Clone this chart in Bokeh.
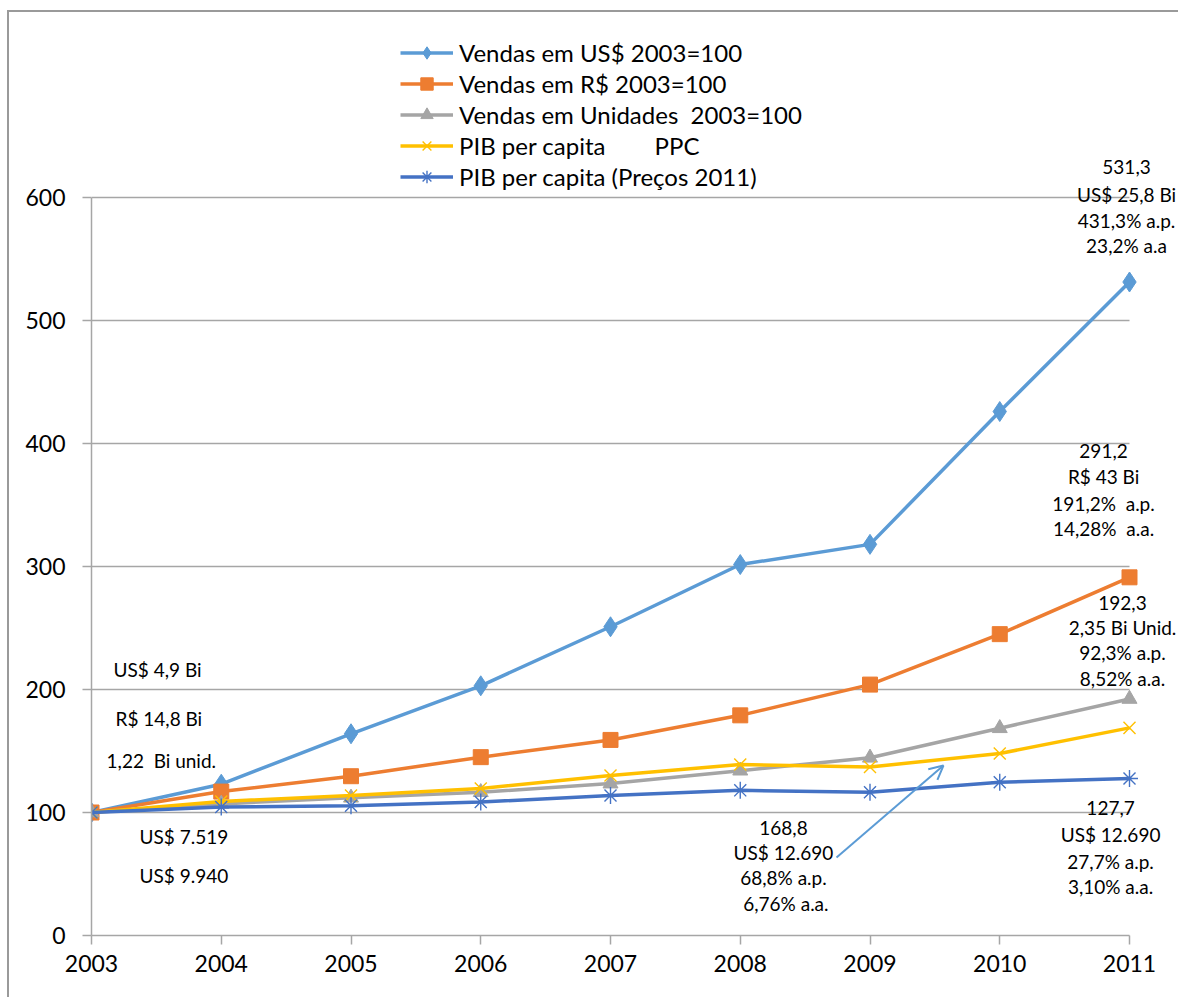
from bokeh.plotting import figure
from bokeh.layouts import column
from bokeh.models import (FixedTicker, Legend, LegendItem, Arrow, OpenHead,
                          Range1d)
from bokeh.core.properties import value
from bokeh.embed import file_html
from bokeh.resources import INLINE

# ---- data (index 2003 = 100) ----
years = [2003, 2004, 2005, 2006, 2007, 2008, 2009, 2010, 2011]
vendas_usd = [100, 123, 164, 203, 251, 301.6, 318, 426, 531.3]
vendas_brl = [100, 117, 129.5, 145, 159, 179, 204, 245, 291.2]
vendas_unid = [100, 107, 112, 116.5, 123.5, 134, 144.5, 168.5, 192.3]
pib_ppc = [100, 109, 113.8, 119.5, 130, 139, 137, 148, 168.8]
pib_2011 = [100, 104.5, 105.5, 108.5, 113.8, 118, 116.5, 124.6, 127.7]
y_ticks = [0, 100, 200, 300, 400, 500, 600]

NB = "\u00a0"
series_labels = [
    "Vendas em US$ 2003=100",
    "Vendas em R$ 2003=100",
    "Vendas em Unidades " + NB + "2003=100",
    "PIB per capita " + NB * 7 + "PPC",
    "PIB per capita (Preços 2011)",
]


def br(v):
    return f"{v:.1f}".replace(".", ",")


# ---- layout constants (pixels) ----
W, H = 1178, 997
EDGE_X, EDGE_Y, EDGE_W = 7, 10, 2        # outer chart-area border
AXIS_X, AXIS_Y = 91, 935                 # page position of (2003, 0)
PX_PER_YEAR = 129.75
PX_PER_UNIT = 1.23
org_x, org_y = EDGE_X + EDGE_W, EDGE_Y + EDGE_W
fig_w = W - org_x
fig_h = H - org_y
left = AXIS_X - org_x
bottom = fig_h - (AXIS_Y - org_y)
frame_w = fig_w - left
frame_h = fig_h - bottom
x_end = years[0] + frame_w / PX_PER_YEAR
y_end = frame_h / PX_PER_UNIT

FONT = "Lato"
GRID = "#A6A6A6"

p = figure(width=fig_w, height=fig_h, output_backend="svg", toolbar_location=None,
           x_range=Range1d(years[0], x_end), y_range=Range1d(0, y_end),
           min_border_left=left, min_border_right=0,
           min_border_top=0, min_border_bottom=bottom)
p.outline_line_color = None
p.background_fill_color = "white"
p.border_fill_color = "white"
p.xgrid.visible = False
p.ygrid.visible = False

# horizontal gridlines limited to the year span
p.segment(x0=years[0], x1=years[-1], y0=y_ticks[1:], y1=y_ticks[1:],
          line_color=GRID, line_width=1.3)

for ax in (p.xaxis[0], p.yaxis[0]):
    ax.axis_line_color = GRID
    ax.axis_line_width = 1.5
    ax.major_tick_line_color = GRID
    ax.major_tick_line_width = 1.5
    ax.major_tick_in = 0
    ax.major_tick_out = 9
    ax.minor_tick_line_color = None
    ax.major_label_text_font = FONT
    ax.major_label_text_font_size = "23px"
    ax.major_label_text_color = "black"

p.xaxis.ticker = FixedTicker(ticks=years)
p.xaxis.bounds = (years[0], years[-1])
p.xaxis.major_label_standoff = 10
p.yaxis.ticker = FixedTicker(ticks=y_ticks)
p.yaxis.bounds = (0, 600)
p.yaxis.major_label_standoff = 17

styles = [
    (vendas_usd, "#5B9BD5", "diamond", 20),
    (vendas_brl, "#ED7D31", "square", 15),
    (vendas_unid, "#A5A5A5", "triangle", 15),
    (pib_ppc, "#FFC000", "x", 17),
    (pib_2011, "#4472C4", "asterisk", 17),
]

items = []
for label, (vals, color, marker, size) in zip(series_labels, styles):
    ln = p.line(years, vals, line_color=color, line_width=3.5)
    thin = marker in ("x", "asterisk")
    sc = p.scatter(years, vals, marker=marker, size=size,
                   fill_color=color, line_color=color,
                   line_width=1.4 if thin else 1)
    items.append(LegendItem(label=label, renderers=[ln, sc]))

legend = Legend(items=items, location=(400 - AXIS_X, AXIS_Y - 191.5),
                orientation="vertical",
                glyph_width=53, glyph_height=31, label_height=31,
                label_standoff=6, spacing=0, padding=0, margin=0,
                border_line_color=None, background_fill_alpha=0,
                label_text_font=FONT, label_text_font_size="24px",
                label_text_color="black")
p.add_layout(legend)

# ---- notes ----
notes_left = [
    ("US$ 4,9 Bi", 2003.170, 216.3),
    ("R$ 14,8 Bi", 2003.185, 176.4),
    ("1,22 " + NB + "Bi unid.", 2003.116, 142.3),
    ("US$ 7.519", 2003.370, 80.5),
    ("US$ 9.940", 2003.370, 48.8),
]
p.text(x=[n[1] for n in notes_left], y=[n[2] for n in notes_left],
       text=[n[0] for n in notes_left], text_font=value(FONT),
       text_font_size="19px", text_align="left", text_baseline="middle",
       text_color="black")

blocks = [
    (2010.977, [624.4, 602.4, 581.3, 561.0],
     [br(vendas_usd[-1]), "US$ 25,8 Bi", "431,3% a.p.", "23,2% a.a"]),
    (2010.800, [393.5, 373.2, 351.2, 330.9],
     [br(vendas_brl[-1]), "R$ 43 Bi", "191,2% " + NB + "a.p.", "14,28% " + NB + "a.a."]),
    (2010.946, [270.7, 250.4, 230.1, 208.9],
     [br(vendas_unid[-1]), "2,35 Bi Unid.", "92,3% a.p.", "8,52% a.a."]),
    (2008.333, [87.8, 67.5, 47.2, 26.0],
     [br(pib_ppc[-1]), "US$ 12.690", "68,8% a.p.", NB + "6,76% a.a."]),
    (2010.854, [103.3, 82.1, 60.2, 39.8],
     [br(pib_2011[-1]), "US$ 12.690", "27,7% a.p.", "3,10% a.a."]),
]
bx, by, bt = [], [], []
for cx, ys, texts in blocks:
    for yy, tt in zip(ys, texts):
        bx.append(cx)
        by.append(yy)
        bt.append(tt)
p.text(x=bx, y=by, text=bt, text_font=value(FONT), text_font_size="19px",
       text_align="center", text_baseline="middle", text_color="black")

p.add_layout(Arrow(end=OpenHead(size=14, line_color="#5B9BD5", line_width=2),
                   x_start=2008.742, y_start=63.4, x_end=2009.566, y_end=138.2,
                   line_color="#5B9BD5", line_width=2))

# outer chart-area border on a wrapper sized to hold the figure exactly
page = column(p, width=fig_w + EDGE_W, height=fig_h + EDGE_W, styles={
    "box-sizing": "border-box",
    "overflow": "visible",
    "margin-left": f"{EDGE_X}px",
    "margin-top": f"{EDGE_Y}px",
    "border-left": f"{EDGE_W}px solid #9A9A9A",
    "border-top": f"{EDGE_W}px solid #9A9A9A",
})

open("out.html", "w").write(file_html(page, INLINE))
